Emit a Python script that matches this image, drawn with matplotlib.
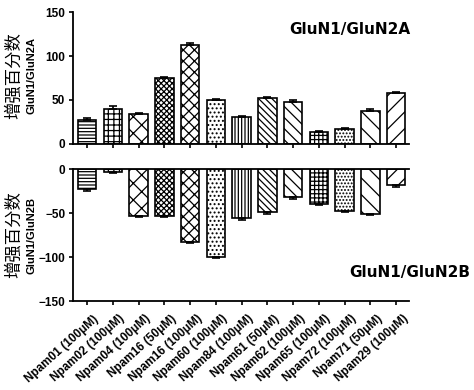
import matplotlib
matplotlib.use("Agg")
import matplotlib.pyplot as plt
import matplotlib.transforms as mtransforms
import numpy as np

categories = ["Npam01 (100μM)", "Npam02 (100μM)", "Npam04 (100μM)", "Npam16 (50μM)",
              "Npam16 (100μM)", "Npam60 (100μM)", "Npam84 (100μM)", "Npam61 (50μM)",
              "Npam62 (100μM)", "Npam65 (100μM)", "Npam72 (100μM)", "Npam71 (50μM)",
              "Npam29 (100μM)"]
glun2a = [27.5, 39.5, 34, 75, 113, 50, 30.5, 52, 48, 13.5, 17, 38, 58]
glun2a_err = [1.5, 3.5, 1.5, 1.5, 1.5, 1.5, 1, 1.5, 1.5, 1, 1.5, 1.5, 1.5]
glun2b = [-23, -3.5, -53, -53, -82.5, -100, -56, -49, -32, -39, -47, -51, -18]
glun2b_err = [1.5, 0.8, 1.5, 1.5, 1.5, 0.8, 1.5, 2, 1.5, 1.5, 1.5, 1.5, 2]
hatches = ['-----', '+++', 'xx', 'xxxxxx', 'xxx', '....', '|||||',
           '\\\\\\\\\\', '\\\\\\', '++++', '.....', '\\\\', '//']

plt.rcParams['hatch.linewidth'] = 0.9
plt.rcParams['font.family'] = ['Liberation Sans', 'Noto Sans CJK SC']

fig = plt.figure(figsize=(4.74, 3.90), dpi=100)
ax1 = fig.add_axes([0.154, 0.631, 0.709, 0.338])
ax2 = fig.add_axes([0.154, 0.228, 0.709, 0.338])
x = np.arange(len(categories))
w = 0.72

for ax, vals, errs in ((ax1, glun2a, glun2a_err), (ax2, glun2b, glun2b_err)):
    for i in range(len(categories)):
        ax.bar(x[i], vals[i], width=w, color='white', edgecolor='black',
               hatch=hatches[i], linewidth=1.2, zorder=2)
        ax.errorbar(x[i], vals[i], yerr=[[0], [errs[i]]] if vals[i] > 0 else [[errs[i]], [0]],
                    fmt='none', ecolor='black', capsize=3, elinewidth=1.2, capthick=1.2, zorder=3)
    ax.set_xlim(-0.55, 12.5)
    ax.set_xticks(x)
    for s in ax.spines.values():
        s.set_linewidth(1.3)
    ax.spines['right'].set_visible(False)
    ax.tick_params(axis='both', width=1.2, length=3, labelsize=8.5, pad=2.5)
    for lab in ax.get_yticklabels():
        lab.set_fontweight('bold')

ax1.set_ylim(0, 150)
ax1.set_yticks([0, 50, 100, 150])
ax1.spines['top'].set_visible(False)
ax1.set_xticklabels([])

ax2.set_ylim(-150, 0)
ax2.set_yticks([-150, -100, -50, 0])
ax2.set_xticklabels(categories, rotation=42, ha='right', rotation_mode='anchor',
                    fontsize=8.5, fontweight='bold')
offset = mtransforms.ScaledTranslation(6 / 100, -4 / 100, fig.dpi_scale_trans)
for lab in ax2.get_xticklabels():
    lab.set_transform(lab.get_transform() + offset)
for lab in ax2.get_yticklabels():
    lab.set_fontweight('bold')

ax1.text(0.824, 0.87, "GluN1/GluN2A", transform=ax1.transAxes, ha='center', va='center',
         fontsize=11, fontweight='bold', family='DejaVu Sans')
ax2.text(1.003, 0.22, "GluN1/GluN2B", transform=ax2.transAxes, ha='center', va='center',
         fontsize=11, fontweight='bold', family='DejaVu Sans')

for ycen, lab in ((1 - 76 / 390, "GluN1/GluN2A"), (1 - 235 / 390, "GluN1/GluN2B")):
    fig.text(14 / 474, ycen, "增强百分数", rotation=90, ha='center', va='center',
             fontsize=12.5, family=['Noto Sans CJK SC'])
    fig.text(32 / 474, ycen, lab, rotation=90, ha='center', va='center',
             fontsize=8, fontweight='bold')

fig.savefig("out.png", dpi=100)
